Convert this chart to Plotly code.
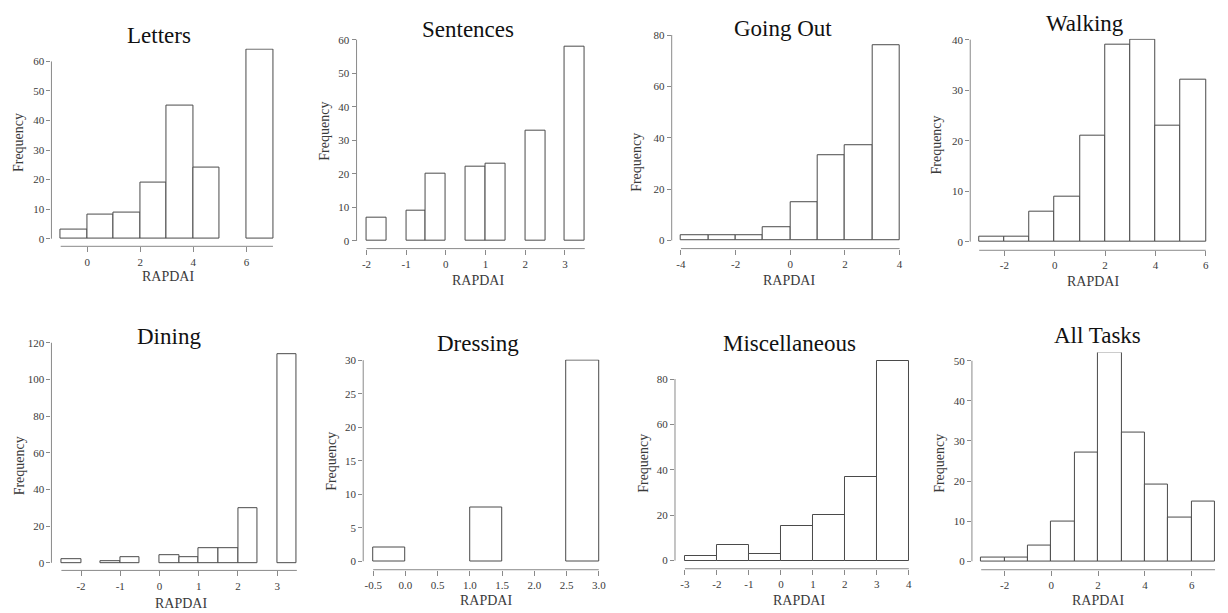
import plotly.graph_objects as go

W, H = 1228, 613

# ---------------- data ----------------
titles = ["Letters", "Sentences", "Going Out", "Walking",
          "Dining", "Dressing", "Miscellaneous", "All Tasks"]

letters_edges = [-1, 0, 1, 2, 3, 4, 5, 6, 7]
letters_counts = [3, 8, 9, 19, 45, 24, 0, 64]

sentences_edges = [-2, -1.5, -1, -0.5, 0, 0.5, 1, 1.5, 2, 2.5, 3, 3.5]
sentences_counts = [7, 0, 9, 20, 0, 22, 23, 0, 33, 0, 58]

goingout_edges = [-4, -3, -2, -1, 0, 1, 2, 3, 4]
goingout_counts = [2, 2, 2, 5, 15, 33, 37, 76]

walking_edges = [-3, -2, -1, 0, 1, 2, 3, 4, 5, 6]
walking_counts = [1, 1, 6, 9, 21, 39, 40, 23, 32]

dining_edges = [-2.5, -2, -1.5, -1, -0.5, 0, 0.5, 1, 1.5, 2, 2.5, 3, 3.5]
dining_counts = [2, 0, 1, 3, 0, 4, 3, 8, 8, 30, 0, 114]

dressing_edges = [-0.5, 0, 0.5, 1, 1.5, 2, 2.5, 3]
dressing_counts = [2, 0, 0, 8, 0, 0, 30]

misc_edges = [-3, -2, -1, 0, 1, 2, 3, 4]
misc_counts = [2, 7, 3, 15, 20, 37, 88]

all_edges = [-3, -2, -1, 0, 1, 2, 3, 4, 5, 6, 7]
all_counts = [1, 1, 4, 10, 27, 52, 32, 19, 11, 15]

letters_xticks = [0, 2, 4, 6]
sentences_xticks = [-2, -1, 0, 1, 2, 3]
goingout_xticks = [-4, -2, 0, 2, 4]
walking_xticks = [-2, 0, 2, 4, 6]
dining_xticks = [-2, -1, 0, 1, 2, 3]
dressing_xticks = [-0.5, 0, 0.5, 1, 1.5, 2, 2.5, 3]
misc_xticks = [-3, -2, -1, 0, 1, 2, 3, 4]
all_xticks = [-2, 0, 2, 4, 6]

letters_yticks = [0, 10, 20, 30, 40, 50, 60]
sentences_yticks = [0, 10, 20, 30, 40, 50, 60]
goingout_yticks = [0, 20, 40, 60, 80]
walking_yticks = [0, 10, 20, 30, 40]
dining_yticks = [0, 20, 40, 60, 80, 100, 120]
dressing_yticks = [0, 5, 10, 15, 20, 25, 30]
misc_yticks = [0, 20, 40, 60, 80]
all_yticks = [0, 10, 20, 30, 40, 50]

x_label = "RAPDAI"
y_label = "Frequency"

panels_data = [
    (letters_edges, letters_counts, letters_xticks, letters_yticks, None),
    (sentences_edges, sentences_counts, sentences_xticks, sentences_yticks, None),
    (goingout_edges, goingout_counts, goingout_xticks, goingout_yticks, None),
    (walking_edges, walking_counts, walking_xticks, walking_yticks, None),
    (dining_edges, dining_counts, dining_xticks, dining_yticks, None),
    (dressing_edges, dressing_counts, dressing_xticks, dressing_yticks, ".1f"),
    (misc_edges, misc_counts, misc_xticks, misc_yticks, None),
    (all_edges, all_counts, all_xticks, all_yticks, None),
]

# ---------------- layout geometry (pixels) ----------------
# (xa, pxa, xb, pxb, ya, pya, yb, pyb, yaxis_line_px, xaxis_line_py, top_py, right_px,
#  title_xy, freq_xy, rapdai_xy)
geom = [
    (-1, 61.0, 7, 274.3, 0, 235.0, 60, 56.0, 51.7, 242.7, 43.0, 275.5, (160, 30), (18.5, 138), (169, 273)),
    (-2, 368.3, 3, 567.7, 0, 237.3, 60, 34.0, 358.3, 245.0, 33.0, 589.0, (470, 24), (326.5, 126), (480, 277)),
    (-4, 684.3, 4, 904.0, 0, 236.7, 80, 29.3, 675.0, 245.0, 28.5, 905.0, (787, 23), (639.5, 158), (793, 277)),
    (-3, 984.0, 6, 1211.7, 0, 238.0, 40, 34.0, 975.0, 246.7, 33.0, 1213.0, (1090, 18), (941.5, 140), (1098, 278)),
    (-2.5, 61.7, 3.5, 298.3, 0, 562.3, 120, 340.0, 51.7, 570.0, 339.5, 299.5, (170, 334), (20, 464), (182, 603)),
    (-0.5, 375.0, 3.0, 601.7, 0, 560.7, 30, 357.7, 365.0, 569.3, 357.0, 603.0, (480, 341), (333, 460), (488, 600)),
    (-3, 688.3, 4, 913.3, 0, 560.0, 80, 376.7, 678.3, 568.3, 357.5, 914.5, (793, 341), (646.5, 462), (803, 600)),
    (-3, 986.0, 7, 1221.0, 0, 560.7, 50, 358.3, 976.7, 569.3, 350.0, 1222.5, (1103, 333), (944, 462), (1103, 600)),
]

FONT = "Liberation Serif, Times New Roman, serif"
INK = "#3a3a3a"
AXIS = "#8a8a8a"
BAR_LINE = "#4a4a4a"


def rng(a, pa, b, pb, p_lo, p_hi):
    s = (b - a) / (pb - pa)
    return [a + (p_lo - pa) * s, a + (p_hi - pa) * s]


fig = go.Figure()
layout = dict(
    width=W, height=H, margin=dict(l=0, r=0, t=0, b=0),
    paper_bgcolor="white", plot_bgcolor="white", showlegend=False,
    font=dict(family=FONT, color=INK),
    bargap=0,
)
shapes, annotations = [], []

for i, ((edges, counts, xt, yt, fmt), g) in enumerate(zip(panels_data, geom)):
    n = i + 1
    xs = "" if n == 1 else str(n)
    (xa, pxa, xb, pxb, ya, pya, yb, pyb, ylx, xly, top, right, tpos, fpos, rpos) = g
    centers, widths, ys = [], [], []
    for k, c in enumerate(counts):
        if c > 0:
            centers.append((edges[k] + edges[k + 1]) / 2)
            widths.append(edges[k + 1] - edges[k])
            ys.append(c)
    fig.add_trace(go.Bar(
        x=centers, y=ys, width=widths,
        marker=dict(color="white", line=dict(color=BAR_LINE, width=1)),
        xaxis="x" + xs, yaxis="y" + xs, hoverinfo="x+y",
    ))
    xr = rng(xa, pxa, xb, pxb, ylx, right)
    yr = rng(ya, pya, yb, pyb, xly, top)
    if fmt:
        ttext = [f"{v:.1f}" for v in xt]
    else:
        ttext = [str(v) for v in xt]
    layout["xaxis" + xs] = dict(
        domain=[ylx / W, right / W], range=xr, anchor="y" + xs,
        showgrid=False, zeroline=False, showline=False,
        tickmode="array", tickvals=xt, ticktext=ttext,
        ticks="outside", ticklen=5, tickwidth=1, tickcolor=AXIS,
        tickfont=dict(family=FONT, size=11, color=INK), fixedrange=True,
    )
    layout["yaxis" + xs] = dict(
        domain=[1 - xly / H, 1 - top / H], range=yr, anchor="x" + xs,
        showgrid=False, zeroline=False, showline=False,
        tickmode="array", tickvals=yt, ticktext=[str(v) for v in yt],
        ticks="outside", ticklen=4, tickwidth=1, tickcolor=AXIS,
        tickfont=dict(family=FONT, size=11, color=INK), fixedrange=True,
    )
    # axis lines limited to the data/tick range
    shapes.append(dict(type="line", xref=f"x{xs} domain", yref="y" + xs,
                       x0=0, x1=0, y0=yt[0], y1=yt[-1],
                       line=dict(color=AXIS, width=1)))
    shapes.append(dict(type="line", xref="x" + xs, yref=f"y{xs} domain",
                       x0=edges[0], x1=edges[-1], y0=0, y1=0,
                       line=dict(color=AXIS, width=1)))
    annotations.append(dict(text=titles[i], xref="paper", yref="paper",
                            x=tpos[0] / W, y=1 - tpos[1] / H,
                            xanchor="center", yanchor="middle", showarrow=False,
                            font=dict(family=FONT, size=23, color="#111111")))
    annotations.append(dict(text=y_label, xref="paper", yref="paper",
                            x=fpos[0] / W, y=1 - fpos[1] / H, textangle=-90,
                            xanchor="center", yanchor="middle", showarrow=False,
                            font=dict(family=FONT, size=14, color=INK)))
    annotations.append(dict(text=x_label, xref="paper", yref="paper",
                            x=rpos[0] / W, y=1 - rpos[1] / H,
                            xanchor="center", yanchor="middle", showarrow=False,
                            font=dict(family=FONT, size=14, color=INK)))

layout["shapes"] = shapes
layout["annotations"] = annotations
fig.update_layout(**layout)
fig.write_html("out.html",
               config={"displayModeBar": False},
               post_script="document.body.style.margin='0';document.body.style.overflow='hidden';")
